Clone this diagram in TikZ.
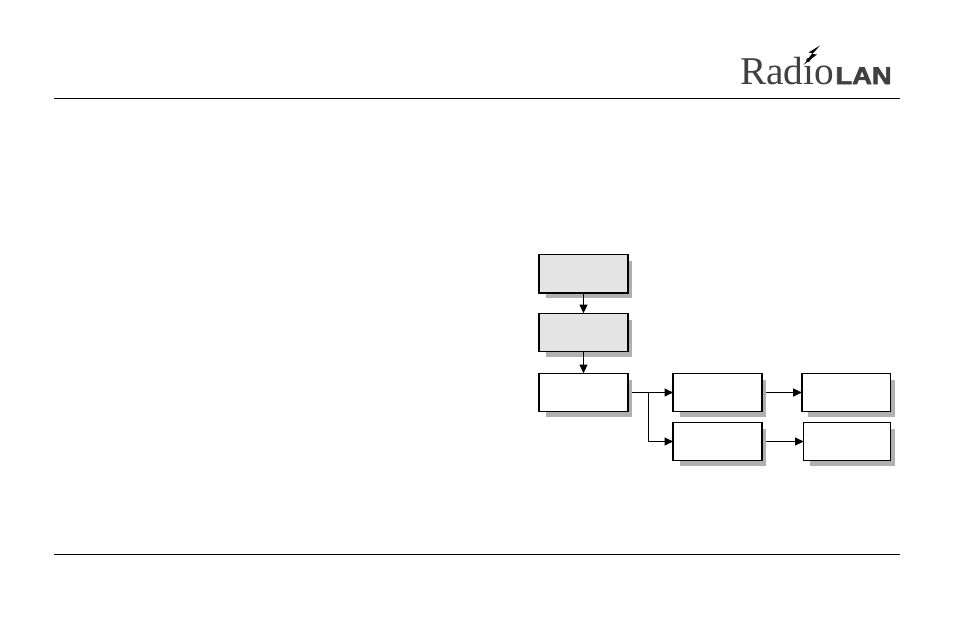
\documentclass[tikz,border=0pt]{standalone}
\usepackage{fontspec}
\usetikzlibrary{arrows.meta,shadows}
\newfontfamily\logoserif{Liberation Serif}
\newfontfamily\logosans[FakeBold=2.5]{Liberation Sans Bold}
\definecolor{boxgray}{HTML}{E4E4E4}
\definecolor{shadowgray}{HTML}{B0B0B0}
\definecolor{logogray}{HTML}{404040}
\tikzset{
  stage/.style={draw=black,line width=1.05pt,fill=white,minimum width=66.5pt,minimum height=28.9pt,inner sep=0pt,outer sep=0pt,
    general shadow={fill=shadowgray,shadow scale=.975,shadow xshift=4.05pt,shadow yshift=-4.5pt}},
  graystage/.style={stage,fill=boxgray},
  link/.style={->,line width=.75pt,>={Triangle[length=6.5pt,width=6pt]}},
  rule/.style={line width=.75pt}
}
\begin{document}
\begin{tikzpicture}[x=.75pt,y=-.75pt]
        \useasboundingbox (0,0) rectangle (954,618);
        % header and footer
        \coordinate (TL) at (54,98.5);
        \coordinate (TR) at (900,98.5);
        \coordinate (BL) at (54,554.5);
        \coordinate (BR) at (900,554.5);
        \draw [rule] (TL) -- (TR);
        \draw [rule] (BL) -- (BR);
        % logo
        \node [anchor=base west,inner sep=0pt,text=logogray,font=\logoserif\fontsize{29.5}{29.5}\selectfont] (radio) at (740,84) {Radio};
        \node [anchor=base east,inner sep=0pt,text=logogray,font=\logosans\fontsize{18}{18}\selectfont,xscale=1.14] (lan) at (892,84) {LAN};
        \fill [black] (820,45.5) -- (808.5,52.5) -- (812.5,53) -- (803.5,65) -- (817,54.5) -- (812.5,54) -- cycle;
        % boxes
        \node [graystage] (A) at (583.5,273.8) {};
        \node [graystage] (B) at (583.5,332.5) {};
        \node [stage] (C) at (583.5,392.5) {};
        \node [stage] (D) at (717.5,392.5) {};
        \node [stage] (E) at (717.5,441.5) {};
        \node [stage] (F) at (846.2,392.5) {};
        \node [stage,minimum width=65.25pt] (G) at (847.2,441.5) {};
        % connectors start at the edge of the shadow
        \coordinate (Cout) at (632,392.5);
        \coordinate (Dout) at (766,392.5);
        \coordinate (Eout) at (766,441.5);
        \coordinate (fork) at (648.5,392.5);
        \draw [link] (A) -- (B);
        \draw [link] (B) -- (C);
        \draw [link] (Cout) -- (D);
        \draw [link] (fork) |- (E);
        \draw [link] (Dout) -- (F);
        \draw [link] (Eout) -- (G);
\end{tikzpicture}
\end{document}
